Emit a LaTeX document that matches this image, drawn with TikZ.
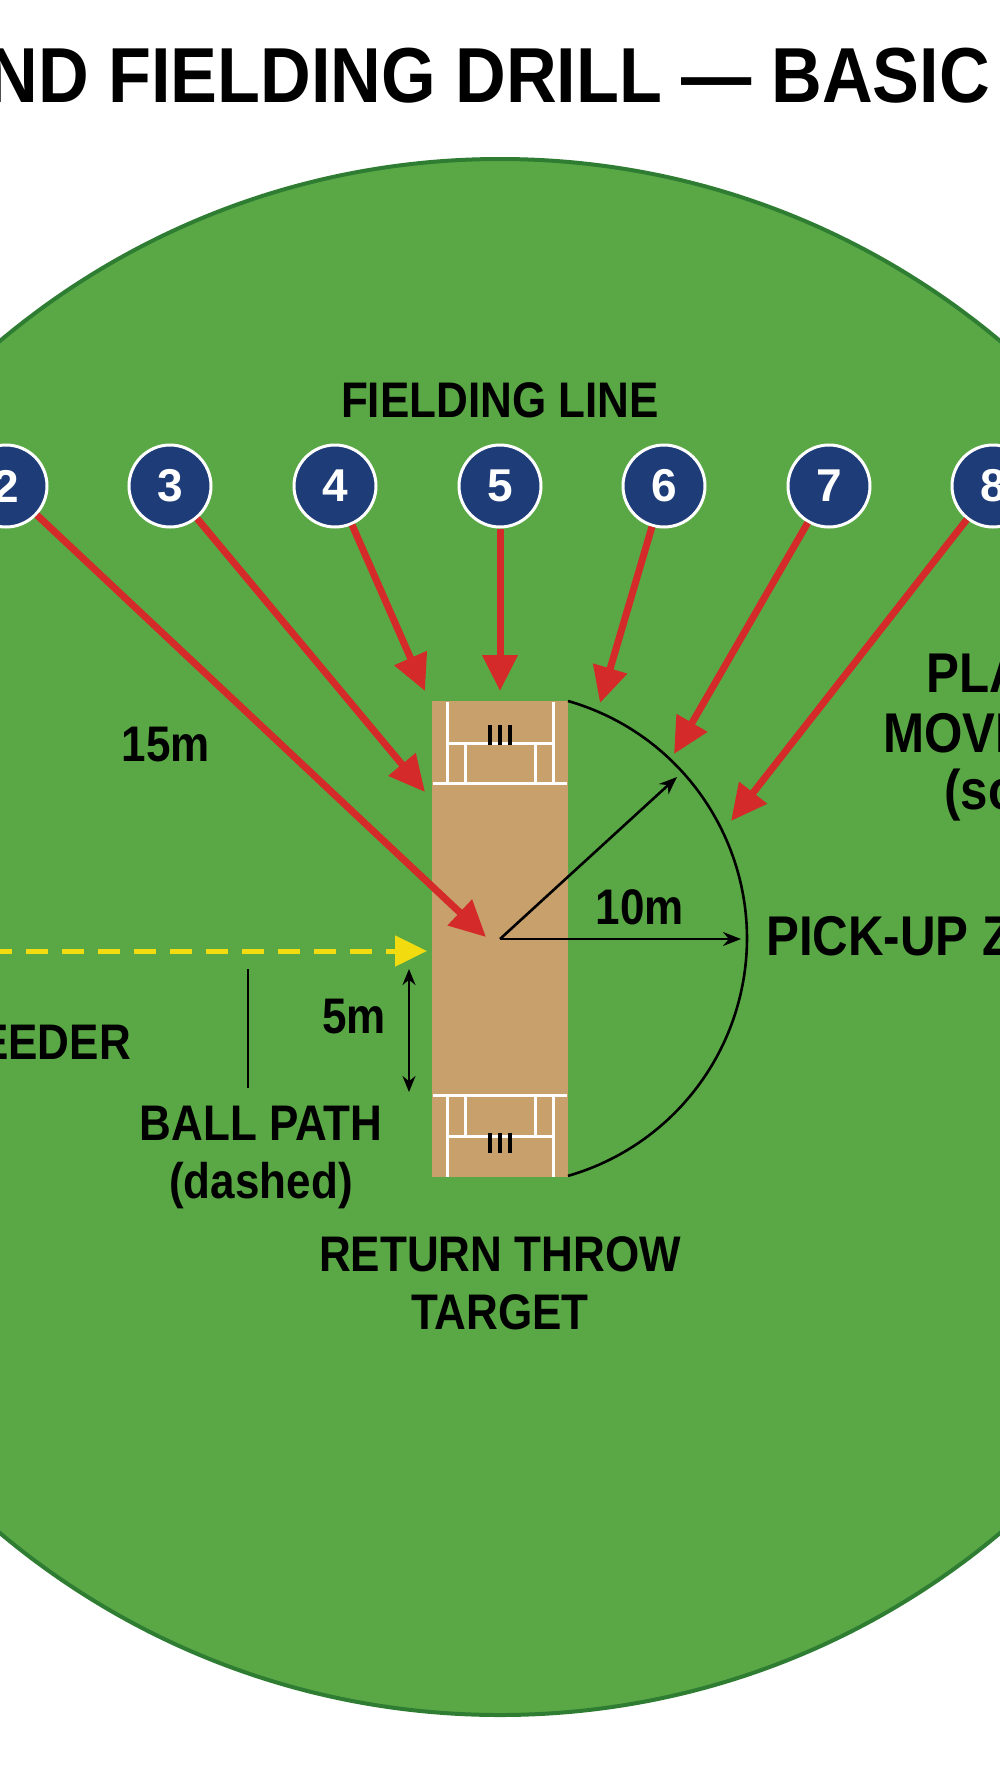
\documentclass[tikz,border=0pt]{standalone}
\usepackage{fontspec}
\setmainfont{Liberation Sans}
\usetikzlibrary{arrows.meta}
\definecolor{field}{HTML}{5AA845}
\definecolor{fieldedge}{HTML}{2E7D32}
\definecolor{navy}{HTML}{1E3C78}
\definecolor{pitch}{HTML}{C8A06C}
\definecolor{redar}{HTML}{D42A2A}
\definecolor{yel}{HTML}{F2DC10}
\newcommand\cnd[1]{\scalebox{0.88}[1]{#1}}
\tikzset{
 lbl/.style={font=\bfseries\fontsize{50}{58}\selectfont, align=center, inner sep=0pt},
 biglbl/.style={lbl, font=\bfseries\fontsize{56}{60}\selectfont},
 fielder/.style={circle, fill=navy, draw=white, line width=3pt, minimum size=82pt, inner sep=0pt, text=white, font=\bfseries\fontsize{46}{48}\selectfont},
 redarrow/.style={draw=redar, line width=7pt, -{Triangle[length=36pt,width=34pt]}},
 blkarrow/.style={draw=black, line width=2.6pt, -{Stealth[length=18pt,width=14pt]}},
 crease/.style={draw=white, line width=3pt},
}
\begin{document}
\begin{tikzpicture}[x=1pt,y=-1pt]
\useasboundingbox (0,0) rectangle (1000,1792);
\clip (0,0) rectangle (1000,1792);
\fill[white] (0,0) rectangle (1000,1792);
\node[lbl, font=\bfseries\fontsize{78}{84}\selectfont, anchor=east] (title) at (990,76) {\scalebox{0.9}[1]{ND FIELDING DRILL — BASIC}};
\fill[field] (500,937) circle (778);
\draw[fieldedge, line width=4pt] (500,937) circle (778);
% pitch
\node[fill=pitch, minimum width=136pt, minimum height=476pt, inner sep=0pt] (pitch) at (500,939) {};
\draw[crease] (433,783) -- (567,783);
\draw[crease] (447,702) -- (447,783) (553,702) -- (553,783);
\draw[crease] (447,743) -- (553,743);
\draw[crease] (465,743) -- (465,783) (535,743) -- (535,783);
\draw[line width=3.5pt] (490,725)--(490,745) (500,725)--(500,745) (510,725)--(510,745);
\draw[crease] (433,1095) -- (567,1095);
\draw[crease] (447,1095) -- (447,1177) (553,1095) -- (553,1177);
\draw[crease] (447,1136) -- (553,1136);
\draw[crease] (465,1095) -- (465,1136) (535,1095) -- (535,1136);
\draw[line width=3.5pt] (490,1133)--(490,1153) (500,1133)--(500,1153) (510,1133)--(510,1153);
% labels
\node[lbl] (fl) at (500,400) {\cnd{FIELDING LINE}};
\foreach \n/\x in {2/6,3/170,4/335,5/500,6/664,7/829,8/993}
  \node[fielder] (f\n) at (\x,486) {\n};
\coordinate (c) at (500,939);
\coordinate (e2) at (486,937);
\coordinate (e3) at (425,792);
\coordinate (e4) at (425,691);
\coordinate (e5) at (500,691);
\coordinate (e6) at (600,703);
\coordinate (e7) at (674,754);
\coordinate (e8) at (731,821);
\foreach \n in {2,...,8} \draw[redarrow] (f\n) -- (e\n);
% arc
\draw[line width=2.6pt] (568,701) arc[start angle=-74, end angle=74, radius=247];
\coordinate (r1) at (741,939);
\coordinate (r2) at (677,777);
\draw[blkarrow] (c) -- (r1);
\draw[blkarrow] (c) -- (r2);
\node[lbl] (ten) at (640,907) {\cnd{10m}};
\node[biglbl, anchor=west] (pz) at (766,936) {\cnd{PICK-UP ZONE}};
\node[lbl] (fif) at (166,745) {\cnd{15m}};
% yellow
\coordinate (y0) at (-10,951);
\coordinate (y1) at (427,951);
\draw[yel, line width=5pt, dash pattern=on 22pt off 14pt, -{Triangle[length=32pt,width=30pt]}] (y0) -- (y1);
\node[lbl, anchor=east] (fd) at (131,1042) {\cnd{FEEDER}};
\coordinate (v0) at (248,969); \coordinate (v1) at (248,1088);
\draw[line width=2pt] (v0) -- (v1);
\node[lbl] (bp) at (261,1157) {\cnd{BALL PATH}\\\cnd{(dashed)}};
\coordinate (d0) at (409,969); \coordinate (d1) at (409,1092);
\draw[line width=2.6pt, {Stealth[length=16pt,width=13pt]}-{Stealth[length=16pt,width=13pt]}] (d0) -- (d1);
\node[lbl] (five) at (354,1017) {\cnd{5m}};
\node[lbl] (rt) at (500,1283) {\cnd{RETURN THROW}\\\cnd{TARGET}};
\node[biglbl, anchor=west] (pl1) at (926,673) {\cnd{PLAYERS}};
\node[biglbl, anchor=west] (pl2) at (883,733) {\cnd{MOVEMENT}};
\node[biglbl, anchor=west] (pl3) at (944,795) {\cnd{(solid)}};
\end{tikzpicture}
\end{document}
